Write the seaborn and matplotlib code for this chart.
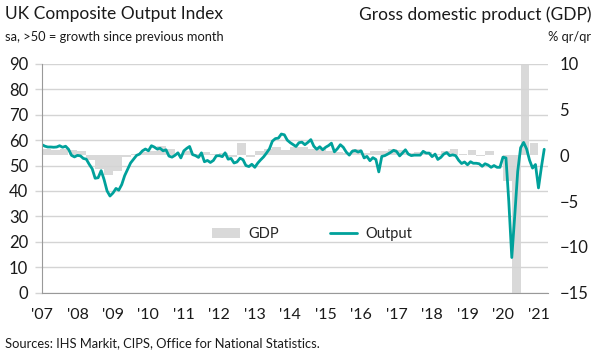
import matplotlib
matplotlib.use("Agg")
import matplotlib.pyplot as plt
from matplotlib.patches import Patch
from matplotlib.lines import Line2D
import pandas as pd
import seaborn as sns

# monthly composite output index, Jan 2007 - Mar 2021
output_index = [
    58.2, 57.6, 57.3, 57.3, 57.2, 57.3, 57.8, 57.2, 57.6, 56.4, 54.0, 53.4,
    54.0, 53.8, 52.8, 52.5, 50.5, 48.7, 45.0, 45.2, 48.0, 44.5, 40.0, 38.0,
    39.2, 41.0, 40.3, 42.5, 46.0, 48.5, 51.0, 52.5, 54.0, 54.5, 55.8, 56.5,
    55.8, 57.8, 57.3, 56.5, 56.8, 55.8, 56.2, 53.7, 53.3, 54.0, 55.0, 53.0,
    55.8, 56.8, 57.5, 54.3, 53.9, 53.2, 55.0, 51.5, 52.0, 51.2, 52.0, 53.8,
    53.9, 53.5, 55.0, 52.5, 52.8, 51.0, 51.4, 52.9, 52.3, 50.0, 49.6, 50.5,
    49.3, 51.0, 52.2, 53.4, 54.9, 56.6, 59.6, 60.6, 60.8, 62.4, 62.1, 60.0,
    59.0, 58.2, 57.5, 59.0, 59.2, 58.2, 59.1, 60.2, 57.6, 56.4, 57.4, 56.2,
    57.2, 57.9, 58.8, 55.4, 56.6, 58.2, 57.2, 55.3, 54.1, 55.6, 55.9, 55.3,
    55.8, 53.0, 53.6, 51.9, 53.1, 52.4, 47.5, 53.6, 53.9, 54.5, 55.2, 56.0,
    55.5, 53.8, 54.9, 56.2, 54.5, 53.9, 54.1, 54.1, 54.1, 55.6, 54.9, 54.9,
    53.5, 54.5, 52.4, 53.2, 54.5, 55.1, 53.9, 54.2, 53.9, 52.1, 50.8, 51.4,
    50.3, 51.5, 50.9, 50.9, 50.7, 49.7, 50.7, 50.2, 49.3, 50.0, 49.3, 49.3,
    53.3, 53.0, 36.0, 13.8, 30.0, 47.7, 57.0, 59.1, 56.5, 52.1, 49.0, 50.4,
    41.2, 49.6, 56.4,
]

# quarterly GDP growth, % q/q, 2007 Q1 - 2020 Q4
gdp_growth = [
    0.7, 0.6, 0.7, 0.6,
    0.5, -0.5, -1.5, -2.2,
    -1.7, -0.2, 0.1, 0.4,
    0.5, 1.0, 0.7, 0.1,
    0.5, 0.2, 0.4, 0.1,
    0.3, -0.2, 1.3, -0.2,
    0.5, 0.7, 0.9, 0.6,
    0.9, 0.9, 0.7, 0.7,
    0.5, 0.4, 0.3, 0.7,
    0.3, 0.5, 0.5, 0.7,
    0.6, 0.3, 0.4, 0.4,
    0.1, 0.5, 0.7, 0.2,
    0.6, -0.1, 0.5, 0.0,
    -2.8, -19.0, 16.0, 1.3,
]

year_labels = ["'07", "'08", "'09", "'10", "'11", "'12", "'13", "'14",
               "'15", "'16", "'17", "'18", "'19", "'20", "'21"]

teal = "#00a19b"
bar_grey = "#d9d9d9"
grid_grey = "#d4d4d4"
text_col = "#1a1a1a"

sns.set_style("white")
plt.rcParams["font.family"] = ["Lato", "DejaVu Sans"]

months = pd.date_range("2007-01-01", periods=len(output_index), freq="MS")
quarters = pd.date_range("2007-01-01", periods=len(gdp_growth), freq="QS")
df_out = pd.DataFrame({"date": months, "output": output_index})

fig = plt.figure(figsize=(5.97, 3.59), dpi=100)
ax = fig.add_axes([0.0704, 0.185, 0.848, 0.637])
ax2 = ax.twinx()

# GDP bars on the right-hand scale, behind the output line
ax2.bar(quarters, gdp_growth, width=91, align="edge", color=bar_grey,
        linewidth=0)
ax2.set_ylim(-15, 10)
ax2.set_yticks([10, 5, 0, -5, -10, -15])
ax2.tick_params(axis="y", length=0, labelsize=12, colors=text_col, pad=8)
for s in ax2.spines.values():
    s.set_visible(False)

ax.set_zorder(ax2.get_zorder() + 1)
ax.patch.set_visible(False)
sns.lineplot(data=df_out, x="date", y="output", ax=ax, color=teal,
             linewidth=2.0)
ax.set_ylim(0, 90)
ax.set_yticks(range(0, 91, 10))
ax.set_xlim(pd.Timestamp("2007-01-01"), pd.Timestamp("2021-04-12"))
ticks = pd.date_range("2007-01-01", periods=len(year_labels), freq="YS")
ax.set_xticks(ticks)
ax.set_xticklabels(year_labels)
ax.set_xlabel("")
ax.set_ylabel("")
ax.grid(axis="y", color=grid_grey, linewidth=1)
ax.set_axisbelow(True)
ax.tick_params(axis="x", length=5, width=1, colors="#999999", labelsize=11.5,
               labelcolor=text_col, pad=6)
ax.tick_params(axis="y", length=5, width=1, colors=grid_grey, labelsize=12,
               labelcolor=text_col, pad=5)
for side in ["top", "right"]:
    ax.spines[side].set_visible(False)
ax.spines["left"].set_color("#999999")
ax.spines["bottom"].set_color("#999999")

handles = [Patch(facecolor=bar_grey, edgecolor="none", label="GDP"),
           Line2D([0], [0], color=teal, linewidth=2.0, label="Output")]
ax.legend(handles=handles, loc="center", bbox_to_anchor=(0.534, 0.256),
          ncol=2, frameon=False, fontsize=10.5, handlelength=1.9,
          columnspacing=3.5, handletextpad=0.55)

fig.text(0.008, 0.96, "UK Composite Output Index", fontsize=12.5,
         color=text_col, va="center")
fig.text(0.008, 0.898, "sa, >50 = growth since previous month", fontsize=9.3,
         color=text_col, va="center")
fig.text(0.99, 0.96, "Gross domestic product (GDP)", fontsize=12.5,
         color=text_col, va="center", ha="right")
fig.text(0.99, 0.898, "% qr/qr", fontsize=9.3, color=text_col,
         va="center", ha="right")
fig.text(0.008, 0.045, "Sources: IHS Markit, CIPS, Office for National Statistics.",
         fontsize=9.3, color=text_col, va="center")

fig.savefig("out.png", dpi=100)
